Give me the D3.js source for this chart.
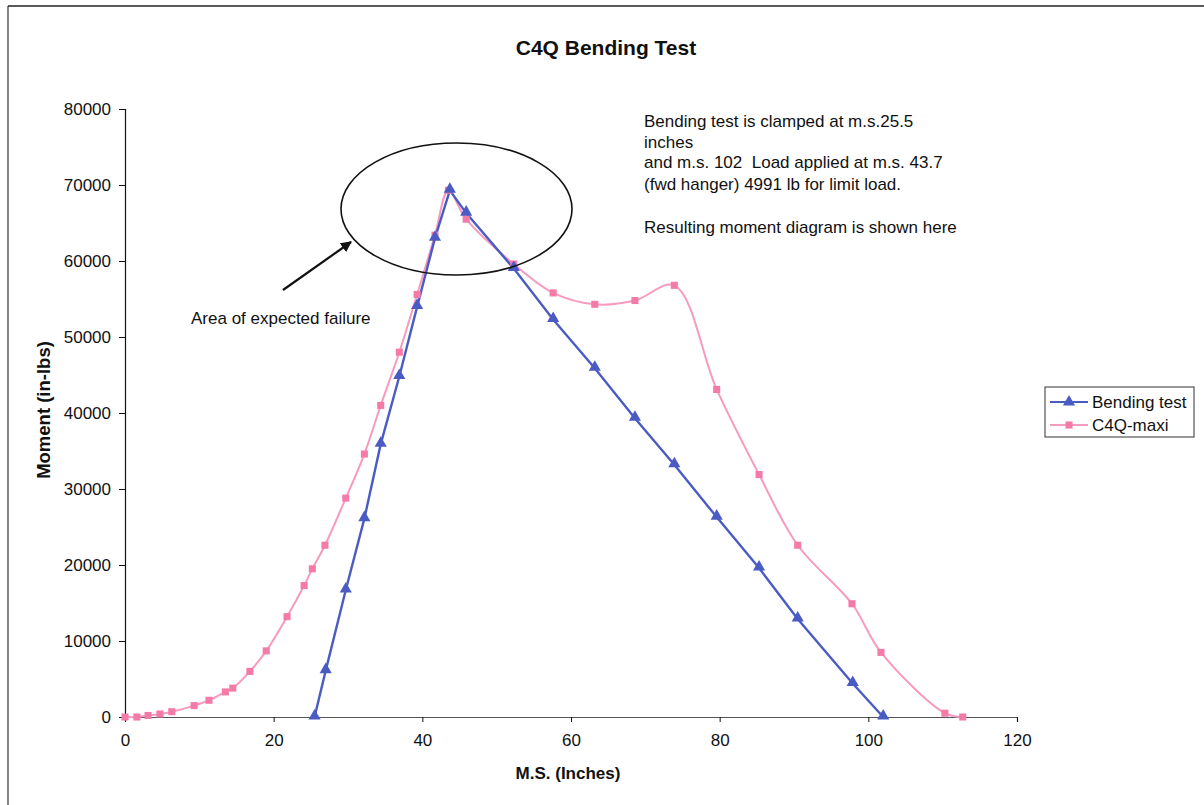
<!DOCTYPE html>
<html>
<head>
<meta charset="utf-8">
<script src="https://cdn.jsdelivr.net/npm/d3@7"></script>
<style>
  html, body { margin: 0; padding: 0; background: #fff; }
  svg { display: block; }
  text { font-family: "Liberation Sans", Arial, sans-serif; fill: #111; white-space: pre; }
</style>
</head>
<body>
<svg id="chart" width="1204" height="805"></svg>
<script>
// ---- data ----
const bendingX = [25.5, 27.0, 29.7, 32.2, 34.4, 36.9, 39.3, 41.7, 43.7, 45.9, 52.3, 57.6, 63.2, 68.6, 73.9, 79.6, 85.3, 90.5, 97.9, 102.0];
const bendingY = [0, 6100, 16700, 26100, 35900, 44800, 54000, 63000, 69300, 66300, 59000, 52300, 45900, 39300, 33200, 26300, 19600, 12900, 4400, 0];
const maxiX = [0, 1.6, 3.1, 4.7, 6.3, 9.3, 11.3, 13.5, 14.5, 16.8, 19.0, 21.8, 24.1, 25.2, 26.9, 29.7, 32.2, 34.4, 36.9, 39.3, 41.7, 43.5, 45.9, 52.3, 57.6, 63.2, 68.6, 73.9, 79.6, 85.3, 90.5, 97.8, 101.7, 110.3, 112.7];
const maxiY = [0, 0, 200, 400, 700, 1500, 2200, 3300, 3800, 6000, 8700, 13200, 17300, 19500, 22600, 28800, 34600, 41000, 48000, 55600, 63400, 69300, 65500, 59600, 55800, 54300, 54800, 56800, 43100, 31900, 22600, 14900, 8500, 500, 0];
const xTicks = [0, 20, 40, 60, 80, 100, 120];
const yTicks = [0, 10000, 20000, 30000, 40000, 50000, 60000, 70000, 80000];
const seriesNames = ["Bending test", "C4Q-maxi"];
const titleText = "C4Q Bending Test";
const xLabel = "M.S. (Inches)";
const yLabel = "Moment (in-lbs)";
const noteLines = ["Bending test is clamped at m.s.25.5", "inches", "and m.s. 102  Load applied at m.s. 43.7", "(fwd hanger) 4991 lb for limit load.", "", "Resulting moment diagram is shown here"];
const failureText = "Area of expected failure";

const blue = "#4a5cc4", pinkLine = "#f79ac0", pinkMark = "#f47aa8";

const svg = d3.select("#chart");
const x = d3.scaleLinear().domain([0, 120]).range([125, 1017]);
const y = d3.scaleLinear().domain([0, 80000]).range([717, 109]);

// frame
svg.append("line").attr("x1", 8).attr("y1", 6).attr("x2", 1204).attr("y2", 6).attr("stroke", "#222").attr("stroke-width", 1.5);
svg.append("line").attr("x1", 8).attr("y1", 6).attr("x2", 8).attr("y2", 805).attr("stroke", "#333").attr("stroke-width", 1.2);

// title
svg.append("text").attr("x", 606).attr("y", 55).attr("text-anchor", "middle")
  .attr("font-size", 21).attr("font-weight", "bold").text(titleText);

// axes
const xAxis = svg.append("g").attr("transform", "translate(0,717)")
  .call(d3.axisBottom(x).tickValues(xTicks).tickSize(5).tickPadding(12).tickFormat(d3.format("d")));
const yAxis = svg.append("g").attr("transform", "translate(125,0)")
  .call(d3.axisLeft(y).tickValues(yTicks).tickSize(6).tickPadding(8).tickFormat(d3.format("d")));
[xAxis, yAxis].forEach(g => {
  g.select(".domain").attr("stroke", "#111").attr("stroke-width", 1.2);
  g.selectAll(".tick line").attr("stroke", "#111");
  g.selectAll(".tick text").attr("font-size", 17).attr("fill", "#111")
    .attr("font-family", "'Liberation Sans', Arial, sans-serif");
});
xAxis.select(".domain").attr("stroke", "#555");

// axis labels
svg.append("text").attr("x", 568).attr("y", 779).attr("text-anchor", "middle")
  .attr("font-size", 17).attr("font-weight", "bold").text(xLabel);
svg.append("text").attr("transform", "translate(50,410) rotate(-90)").attr("text-anchor", "middle")
  .attr("font-size", 18.5).attr("font-weight", "bold").text(yLabel);

// lines
const bendData = bendingX.map((d, i) => [d, bendingY[i]]);
const maxiData = maxiX.map((d, i) => [d, maxiY[i]]);
const lineLin = d3.line().x(d => x(d[0])).y(d => y(d[1]));
const lineSmooth = d3.line().x(d => x(d[0])).y(d => y(d[1])).curve(d3.curveCatmullRom.alpha(0.5));

svg.append("path").attr("d", lineSmooth(maxiData)).attr("fill", "none")
  .attr("stroke", pinkLine).attr("stroke-width", 2);
svg.append("path").attr("d", lineLin(bendData)).attr("fill", "none")
  .attr("stroke", blue).attr("stroke-width", 2.4);

const tri = d3.symbol().type(d3.symbolTriangle).size(64);
const sq = d3.symbol().type(d3.symbolSquare).size(50);

svg.append("g").selectAll("path").data(maxiData).join("path")
  .attr("d", sq).attr("transform", d => `translate(${x(d[0])},${y(d[1])})`)
  .attr("fill", pinkMark);
svg.append("g").selectAll("path").data(bendData).join("path")
  .attr("d", tri).attr("transform", d => `translate(${x(d[0])},${y(d[1]) - 1})`)
  .attr("fill", blue);

// annotations
svg.append("ellipse").attr("cx", 456.5).attr("cy", 209).attr("rx", 115.5).attr("ry", 66)
  .attr("fill", "none").attr("stroke", "#111").attr("stroke-width", 1.6);
const defs = svg.append("defs");
defs.append("marker").attr("id", "ah").attr("viewBox", "0 0 10 10").attr("refX", 9).attr("refY", 5)
  .attr("markerWidth", 5).attr("markerHeight", 5).attr("orient", "auto").attr("markerUnits", "strokeWidth")
  .append("path").attr("d", "M0,0 L10,5 L0,10 z").attr("fill", "#111");
svg.append("line").attr("x1", 283).attr("y1", 290).attr("x2", 351).attr("y2", 242)
  .attr("stroke", "#111").attr("stroke-width", 2.2).attr("marker-end", "url(#ah)");
svg.append("text").attr("x", 191).attr("y", 324).attr("font-size", 17).text(failureText);

const noteY = [127, 148, 168, 190, 211, 233];
noteLines.forEach((t, i) => {
  if (t) svg.append("text").attr("x", 644).attr("y", noteY[i]).attr("font-size", 17)
    .attr("xml:space", "preserve").text(t);
});

// legend
const lg = svg.append("g");
lg.append("rect").attr("x", 1045).attr("y", 387).attr("width", 149).attr("height", 50)
  .attr("fill", "#fff").attr("stroke", "#333").attr("stroke-width", 1);
const legendItems = [
  { name: seriesNames[0], color: blue, sym: tri, lc: blue, yy: 402 },
  { name: seriesNames[1], color: pinkMark, sym: sq, lc: pinkLine, yy: 425 }
];
legendItems.forEach(it => {
  lg.append("line").attr("x1", 1050).attr("x2", 1088).attr("y1", it.yy).attr("y2", it.yy)
    .attr("stroke", it.lc).attr("stroke-width", 2);
  lg.append("path").attr("d", it.sym).attr("transform", `translate(1069,${it.yy})`).attr("fill", it.color);
  lg.append("text").attr("x", 1092).attr("y", it.yy + 6).attr("font-size", 17).text(it.name);
});
</script>
</body>
</html>
